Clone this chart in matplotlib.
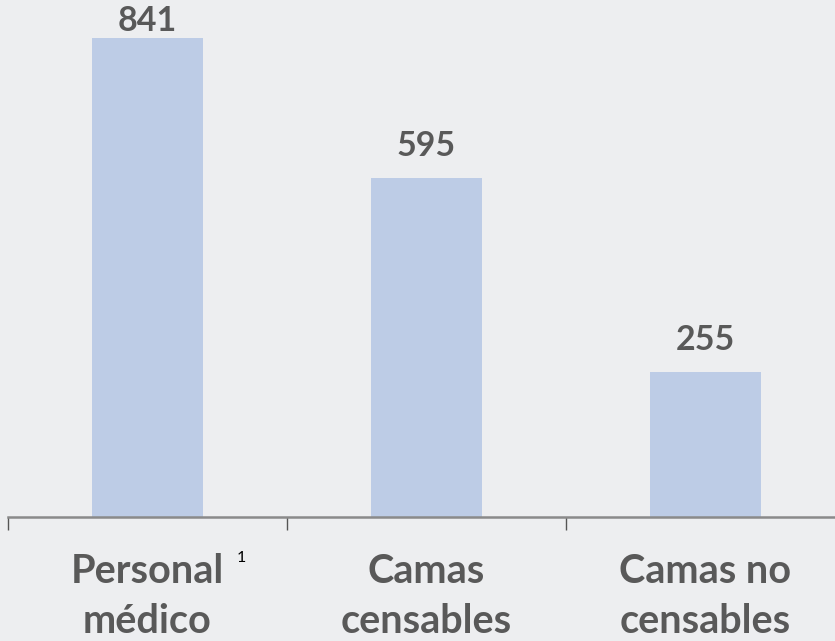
import matplotlib
matplotlib.use("Agg")
import matplotlib.pyplot as plt

# --- data ---
categories = ["Personal\nmédico", "Camas\ncensables", "Camas no\ncensables"]
values = [841, 595, 255]
footnote = "1"

BG = "#edeef0"
BAR = "#bdcce6"
TXT = "#595959"

plt.rcParams["font.family"] = ["Lato", "DejaVu Sans"]

W, H = 835, 641
fig = plt.figure(figsize=(W / 100, H / 100), dpi=100, facecolor=BG)

# axes: baseline at y=517px, left edge at x=8px, spans to right edge
ax = fig.add_axes([8 / W, (H - 517) / H, 1 - 8 / W, 517 / H], facecolor=BG)
px_per_unit = 279.0
x_right = -0.5 + (W - 8) / px_per_unit
ymax = 517 / 479 * 841
ax.set_xlim(-0.5, x_right)
ax.set_ylim(0, ymax)

x = list(range(len(values)))
ax.bar(x, values, width=0.4, color=BAR, zorder=2)

for s in ["top", "right", "left"]:
    ax.spines[s].set_visible(False)
ax.spines["bottom"].set_color("#8a8a8a")
ax.spines["bottom"].set_linewidth(1.8)
ax.set_yticks([])
ax.set_xticks([-0.5, 0.5, 1.5])
ax.set_xticklabels([])
ax.tick_params(axis="x", length=9.5, width=1.0, color="#555555", direction="out")

# value labels: baseline ~22px above bar top, kept inside the frame
data_per_px = ymax / 517
for xi, v in zip(x, values):
    y = min(v + 22 * data_per_px, ymax - 31 * data_per_px)
    ax.text(xi, y, str(v), ha="center", va="baseline", fontsize=24.5,
            fontweight="bold", color=TXT)

# category labels below axis: first baseline ~583px, last ~633px
for xi, lab in zip(x, categories):
    ax.text(xi, -116 * data_per_px, lab, ha="center", va="baseline", fontsize=28.5,
            fontweight="bold", color=TXT, linespacing=1.44, clip_on=False)

ax.text(0.32, -41 * data_per_px, footnote, ha="left", va="center",
        fontsize=11.5, color="black", clip_on=False)

fig.savefig("out.png", dpi=100, facecolor=BG)
